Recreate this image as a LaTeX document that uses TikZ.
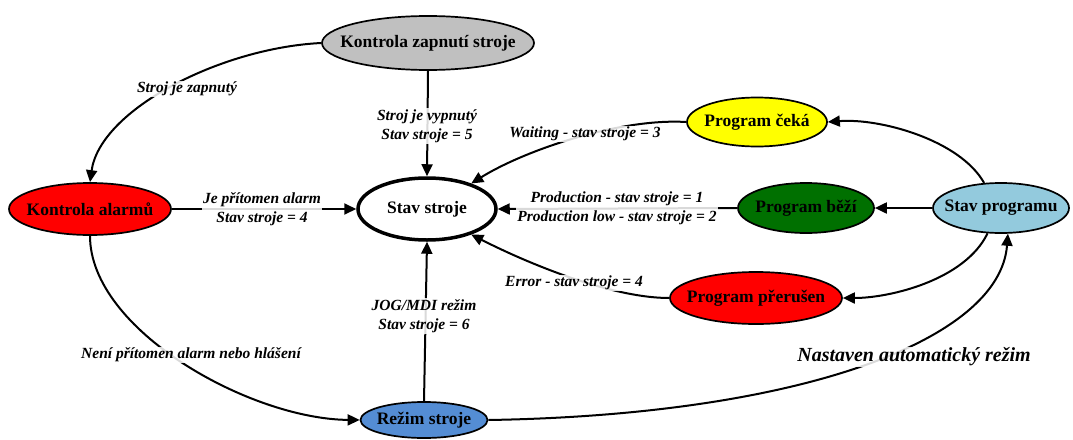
\documentclass[tikz,border=0pt]{standalone}
\usepackage{fontspec}
\setmainfont{Liberation Serif}
\usetikzlibrary{shapes.geometric,arrows.meta}

\definecolor{offgrey}{RGB}{192,192,192}
\definecolor{alarmred}{RGB}{255,0,0}
\definecolor{waityellow}{RGB}{255,255,0}
\definecolor{rungreen}{RGB}{0,112,0}
\definecolor{progblue}{RGB}{147,202,221}
\definecolor{modeblue}{RGB}{84,141,212}

% zero-width text so the ellipse size comes from the minimum sizes only
\newcommand{\statetext}[1]{\makebox[0pt]{#1}}

\begin{document}
\begin{tikzpicture}[x=1pt,y=-1pt,
  state/.style={ellipse, draw=black, line width=1.7pt, inner sep=0pt,
    font=\fontsize{17.5}{20}\selectfont\bfseries},
  edge/.style={line width=2pt, -{Triangle[length=12pt,width=11pt]}},
  lbl/.style={fill=white, fill opacity=0.85, text opacity=1, inner sep=1pt,
    align=center, font=\fontsize{15.5}{19}\selectfont\bfseries\itshape},
  biglbl/.style={lbl, font=\fontsize{20}{23}\selectfont\bfseries\itshape}]
\useasboundingbox (0,0) rectangle (1073,439);

% states
\node[state, fill=offgrey, minimum width=212pt, minimum height=54pt] (kz) at (428,43) {\statetext{Kontrola zapnutí stroje}};
\node[state, fill=white, line width=3.5pt, minimum width=138pt, minimum height=62pt] (st) at (427,209) {\statetext{Stav stroje}};
\node[state, fill=alarmred, minimum width=162pt, minimum height=52pt] (ka) at (90,209) {\statetext{Kontrola alarmů}};
\node[state, fill=waityellow, minimum width=140pt, minimum height=49pt] (pc) at (757,122) {\statetext{Program čeká}};
\node[state, fill=rungreen, minimum width=136pt, minimum height=50pt] (pb) at (806,208) {\statetext{Program běží}};
\node[state, fill=progblue, minimum width=136pt, minimum height=50pt] (sp) at (1001,208) {\statetext{Stav programu}};
\node[state, fill=alarmred, minimum width=172pt, minimum height=52pt] (pp) at (756,298) {\statetext{Program přerušen}};
\node[state, fill=modeblue, minimum width=127pt, minimum height=36pt] (rs) at (424,420) {\statetext{Režim stroje}};

% transitions
\draw[edge] (kz.west) .. controls (220,48) and (100,110) .. (ka.north);
\draw[edge] (kz.south) -- (st.north);
\draw[edge] (ka.east) -- (st.west);
\draw[edge] (ka.south) .. controls (90,330) and (250,419) .. (rs.west);
\draw[edge] (rs.north) -- (st.south);
\draw[edge] (rs.east) .. controls (800,415) and (1000,340) .. (sp.-75);
\draw[edge] (sp.124) .. controls (960,140) and (880,118) .. (pc.east);
\draw[edge] (sp.west) -- (pb.east);
\draw[edge] (sp.-118) .. controls (965,280) and (890,298) .. (pp.east);
\draw[edge] (pc.west) .. controls (620,118) and (525,150) .. (st.30);
\draw[edge] (pb.west) -- (st.east);
\draw[edge] (pp.west) .. controls (610,298) and (525,262) .. (st.-30);

% transition labels
\node[lbl] (l1) at (187,89) {Stroj je zapnutý};
\node[lbl] (l2) at (427,126) {Stroj je vypnutý\\Stav stroje = 5};
\node[lbl] (l3) at (262,209) {Je přítomen alarm\\Stav stroje = 4};
\node[lbl] (l4) at (191,355) {Není přítomen alarm nebo hlášení};
\node[lbl] (l5) at (424,316) {JOG/MDI režim\\Stav stroje = 6};
\node[lbl] (l6) at (585,134) {Waiting - stav stroje = 3};
\node[lbl] (l7) at (617,208) {Production - stav stroje = 1\\Production low - stav stroje = 2};
\node[lbl] (l8) at (574,283) {Error - stav stroje = 4};
\node[biglbl] (l9) at (914,357) {Nastaven automatický režim};
\end{tikzpicture}
\end{document}
